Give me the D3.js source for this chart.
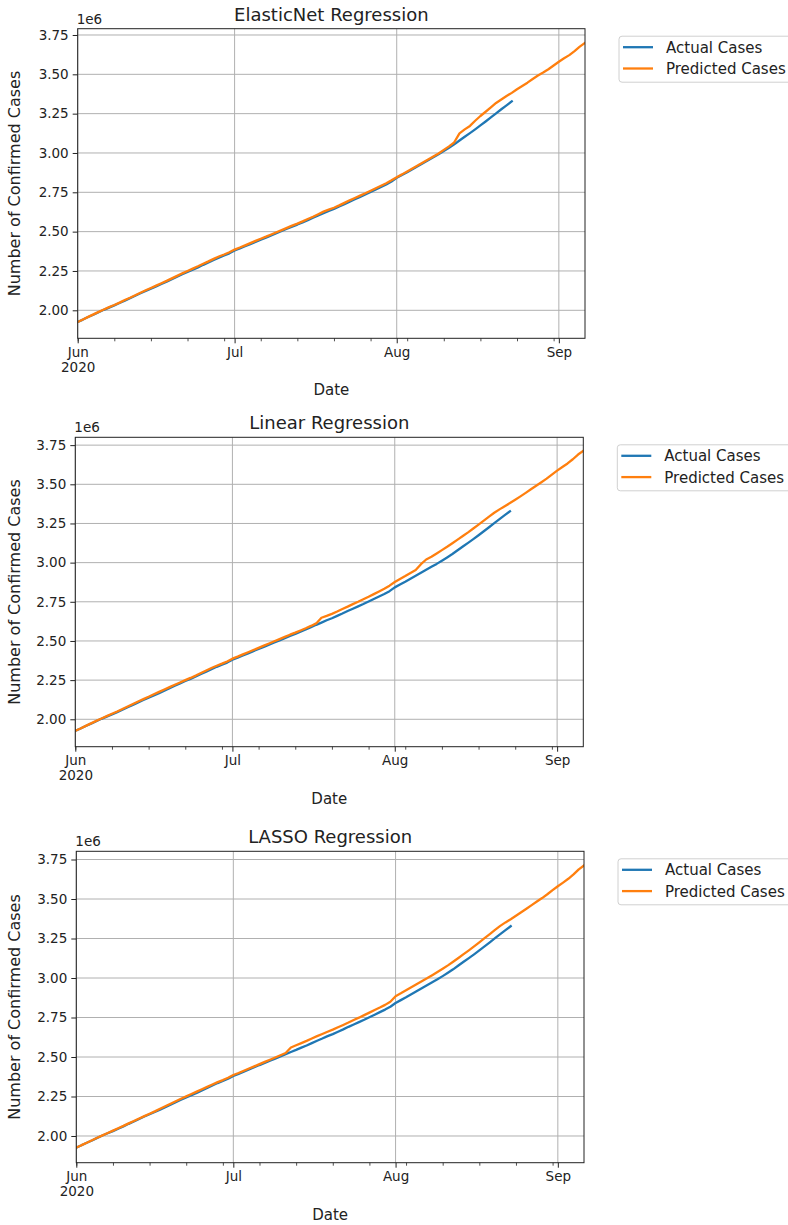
<!DOCTYPE html>
<html lang="en">
  <head>
    <meta charset="UTF-8">
    <title>Confirmed Cases Regression</title>
    <style>
body{
    margin: 0;
    background: #fff;
}
svg{
    display: block;
    font-family: "DejaVu Sans", sans-serif;
}
    </style>
  </head>
  <body>
    <script src="https://cdn.jsdelivr.net/npm/d3@7/dist/d3.min.js"></script>
    <script>
// values in millions (axis shows 1e6 offset), one value per day starting Jun 1 2020
var start_date = "2020-06-01";
var end_date = "2020-09-06";

var actual = [
    1.926, 1.941, 1.957, 1.972, 1.988, 2.003, 2.017, 2.031, 2.046, 2.061,
    2.077, 2.092, 2.108, 2.123, 2.138, 2.152, 2.167, 2.182, 2.198, 2.214,
    2.229, 2.244, 2.258, 2.273, 2.289, 2.304, 2.320, 2.335, 2.348, 2.362,
    2.380, 2.393, 2.407, 2.421, 2.435, 2.449, 2.462, 2.476, 2.490, 2.504,
    2.518, 2.532, 2.545, 2.559, 2.573, 2.588, 2.603, 2.617, 2.632, 2.645,
    2.660, 2.675, 2.691, 2.706, 2.721, 2.736, 2.752, 2.768, 2.784, 2.800,
    2.818, 2.842, 2.860, 2.878, 2.897, 2.916, 2.935, 2.954, 2.973, 2.992,
    3.012, 3.033, 3.055, 3.079, 3.103, 3.126, 3.150, 3.175, 3.200, 3.226,
    3.252, 3.278, 3.303, 3.328
];

var elastic_pred = [
    1.926, 1.942, 1.958, 1.974, 1.990, 2.005, 2.020, 2.034, 2.049, 2.065,
    2.080, 2.096, 2.112, 2.127, 2.142, 2.157, 2.172, 2.187, 2.203, 2.219,
    2.235, 2.250, 2.265, 2.280, 2.296, 2.311, 2.327, 2.342, 2.355, 2.369,
    2.386, 2.399, 2.413, 2.427, 2.441, 2.455, 2.468, 2.482, 2.496, 2.510,
    2.524, 2.538, 2.551, 2.565, 2.580, 2.595, 2.611, 2.627, 2.640, 2.652,
    2.667, 2.683, 2.699, 2.714, 2.729, 2.744, 2.760, 2.776, 2.792, 2.808,
    2.826, 2.846, 2.864, 2.883, 2.902, 2.921, 2.940, 2.959, 2.978, 2.997,
    3.020, 3.042, 3.068, 3.125, 3.150, 3.172, 3.205, 3.235, 3.262, 3.290,
    3.318, 3.340, 3.362, 3.382, 3.405, 3.426, 3.447, 3.470, 3.492, 3.511,
    3.532, 3.556, 3.580, 3.602, 3.622, 3.648, 3.676, 3.700
];

var linear_pred = [
    1.926, 1.941, 1.958, 1.974, 1.990, 2.005, 2.020, 2.035, 2.050, 2.066,
    2.082, 2.098, 2.114, 2.129, 2.144, 2.160, 2.175, 2.190, 2.205, 2.220,
    2.235, 2.250, 2.264, 2.279, 2.295, 2.311, 2.327, 2.342, 2.355, 2.369,
    2.387, 2.400, 2.414, 2.428, 2.442, 2.456, 2.470, 2.484, 2.498, 2.512,
    2.526, 2.540, 2.553, 2.567, 2.581, 2.596, 2.612, 2.648, 2.660, 2.673,
    2.688, 2.704, 2.719, 2.735, 2.750, 2.766, 2.782, 2.799, 2.816, 2.833,
    2.853, 2.876, 2.895, 2.914, 2.934, 2.953, 2.990, 3.020, 3.037, 3.058,
    3.080, 3.101, 3.124, 3.147, 3.170, 3.193, 3.218, 3.243, 3.268, 3.294,
    3.318, 3.340, 3.360, 3.380, 3.401, 3.423, 3.445, 3.468, 3.491, 3.513,
    3.536, 3.562, 3.587, 3.610, 3.633, 3.660, 3.690, 3.714
];

var lasso_pred = [
    1.926, 1.942, 1.957, 1.973, 1.989, 2.004, 2.019, 2.034, 2.049, 2.064,
    2.080, 2.095, 2.111, 2.126, 2.141, 2.156, 2.172, 2.188, 2.204, 2.220,
    2.236, 2.251, 2.266, 2.281, 2.296, 2.311, 2.326, 2.341, 2.354, 2.369,
    2.386, 2.399, 2.413, 2.427, 2.441, 2.455, 2.469, 2.483, 2.497, 2.511,
    2.525, 2.560, 2.574, 2.588, 2.602, 2.617, 2.632, 2.646, 2.660, 2.673,
    2.688, 2.703, 2.718, 2.734, 2.749, 2.765, 2.781, 2.797, 2.813, 2.830,
    2.850, 2.885, 2.903, 2.922, 2.941, 2.960, 2.979, 2.998, 3.018, 3.038,
    3.059, 3.080, 3.103, 3.127, 3.151, 3.175, 3.200, 3.226, 3.252, 3.278,
    3.305, 3.330, 3.352, 3.372, 3.394, 3.416, 3.438, 3.461, 3.484, 3.506,
    3.530, 3.556, 3.581, 3.604, 3.628, 3.656, 3.688, 3.712
];

var titles = ["ElasticNet Regression", "Linear Regression", "LASSO Regression"];
var y_ticks = [2.00, 2.25, 2.50, 2.75, 3.00, 3.25, 3.50, 3.75];
var series_names = ["Actual Cases", "Predicted Cases"];
var colors = ["#1f77b4", "#ff7f0e"];

var width = 788, height = 1225;
var parse = d3.timeParse("%Y-%m-%d");
var t0 = parse(start_date), t1 = parse(end_date);

// layout of each subplot (pixels) and its y limits
var panels = [
    {title: titles[0], pred: elastic_pred, left: 77.7, right: 585, top: 28.7, bottom: 338.3, ymin: 1.822, ymax: 3.790},
    {title: titles[1], pred: linear_pred,  left: 75.3, right: 583.3, top: 437.3, bottom: 746.7, ymin: 1.825, ymax: 3.800},
    {title: titles[2], pred: lasso_pred,   left: 76.3, right: 584, top: 851.3, bottom: 1162.7, ymin: 1.831, ymax: 3.802}
];

var svg = d3.select("body").append("svg")
            .attr("width", width)
            .attr("height", height);

function to_points(values){
    return values.map(function(v, i){
        return {date: d3.timeDay.offset(t0, i), value: v};
    });
}

function draw_panel(p){
    var x = d3.scaleTime().domain([t0, t1]).range([p.left, p.right]);
    var y = d3.scaleLinear().domain([p.ymin, p.ymax]).range([p.bottom, p.top]);
    var g = svg.append("g");
    var months = d3.timeMonth.range(t0, d3.timeDay.offset(t1, 1));

    // grid
    g.append("g").selectAll("line.vgrid").data(months).enter().append("line")
        .attr("x1", function(d){ return x(d); }).attr("x2", function(d){ return x(d); })
        .attr("y1", p.top).attr("y2", p.bottom)
        .attr("stroke", "#b0b0b0").attr("stroke-width", 1);
    g.append("g").selectAll("line.hgrid").data(y_ticks).enter().append("line")
        .attr("x1", p.left).attr("x2", p.right)
        .attr("y1", function(d){ return y(d); }).attr("y2", function(d){ return y(d); })
        .attr("stroke", "#b0b0b0").attr("stroke-width", 1);

    // lines
    var line = d3.line()
                 .x(function(d){ return x(d.date); })
                 .y(function(d){ return y(d.value); });
    var clip_id = "clip" + Math.round(p.top);
    g.append("clipPath").attr("id", clip_id).append("rect")
        .attr("x", p.left).attr("y", p.top)
        .attr("width", p.right - p.left).attr("height", p.bottom - p.top);
    [actual, p.pred].forEach(function(vals, i){
        g.append("path")
            .datum(to_points(vals))
            .attr("clip-path", "url(#" + clip_id + ")")
            .attr("fill", "none")
            .attr("stroke", colors[i])
            .attr("stroke-width", 2.3)
            .attr("stroke-linejoin", "round")
            .attr("stroke-linecap", "square")
            .attr("d", line);
    });

    // y axis
    var ya = g.append("g")
              .attr("transform", "translate(" + p.left + ",0)")
              .call(d3.axisLeft(y).tickValues(y_ticks).tickFormat(d3.format(".2f")).tickSize(5).tickPadding(4));
    ya.select(".domain").remove();
    ya.selectAll("text").attr("font-size", 13.5).attr("font-family", "DejaVu Sans").attr("fill", "#222");
    ya.selectAll("line").attr("stroke", "#222").attr("stroke-width", 1);

    // minor x ticks (weekly, Mondays)
    var xm = g.append("g")
              .attr("transform", "translate(0," + p.bottom + ")")
              .call(d3.axisBottom(x).tickValues(d3.timeMonday.range(t0, t1)).tickFormat("").tickSize(3));
    xm.select(".domain").remove();
    xm.selectAll("line").attr("stroke", "#222").attr("stroke-width", 0.8);

    // major x ticks (months)
    var xa = g.append("g")
              .attr("transform", "translate(0," + p.bottom + ")")
              .call(d3.axisBottom(x).tickValues(months).tickFormat(d3.timeFormat("%b")).tickSize(5).tickPadding(4));
    xa.select(".domain").remove();
    xa.selectAll("line").attr("stroke", "#222").attr("stroke-width", 1);
    xa.selectAll("text").attr("font-size", 13.5).attr("font-family", "DejaVu Sans").attr("fill", "#222");
    xa.selectAll("text").filter(function(d, i){ return i === 0; })
        .append("tspan").attr("x", 0).attr("dy", "1.1em").text(d3.timeFormat("%Y")(t0));

    // frame
    g.append("rect")
        .attr("x", p.left).attr("y", p.top)
        .attr("width", p.right - p.left).attr("height", p.bottom - p.top)
        .attr("fill", "none").attr("stroke", "#222").attr("stroke-width", 1);

    // texts
    var cx = (p.left + p.right) / 2;
    g.append("text").attr("x", cx).attr("y", p.top - 8)
        .attr("text-anchor", "middle").attr("font-size", 18).attr("fill", "#222")
        .text(p.title);
    g.append("text").attr("x", p.left - 1).attr("y", p.top - 5)
        .attr("font-size", 13.5).attr("fill", "#222")
        .text("1e6");
    g.append("text").attr("x", cx).attr("y", p.bottom + 57)
        .attr("text-anchor", "middle").attr("font-size", 15).attr("fill", "#222")
        .text("Date");
    var ymid = (p.top + p.bottom) / 2;
    g.append("text")
        .attr("transform", "translate(20," + ymid + ") rotate(-90)")
        .attr("text-anchor", "middle").attr("font-size", 16).attr("fill", "#222")
        .text("Number of Confirmed Cases");

    // legend
    var lx = p.right + 34, ly = p.top + 7.5;
    var lg = g.append("g").attr("transform", "translate(" + lx + "," + ly + ")");
    lg.append("rect")
        .attr("x", 0).attr("y", 0).attr("width", 190).attr("height", 46)
        .attr("rx", 3).attr("fill", "#fff").attr("stroke", "#d0d0d0").attr("stroke-width", 1);
    series_names.forEach(function(name, i){
        var ry = 11 + i * 21.3;
        lg.append("line")
            .attr("x1", 4).attr("x2", 34).attr("y1", ry).attr("y2", ry)
            .attr("stroke", colors[i]).attr("stroke-width", 2.3);
        lg.append("text")
            .attr("x", 47).attr("y", ry + 5.5)
            .attr("font-size", 15).attr("fill", "#222")
            .text(name);
    });
}

panels.forEach(draw_panel);
    </script>
  </body>
</html>
